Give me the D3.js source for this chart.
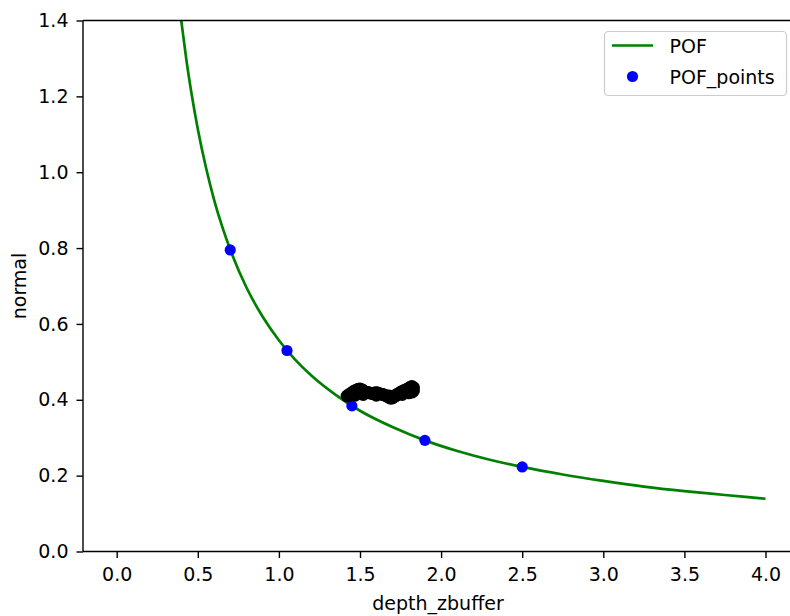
<!DOCTYPE html>
<html><head><meta charset="utf-8">
<script src="https://cdn.jsdelivr.net/npm/d3@7"></script>
<style>body{margin:0;background:#fff;} svg{display:block;font-family:"DejaVu Sans",sans-serif;}</style>
</head><body>
<svg id="chart" width="790" height="616"></svg>
<script>
// Data
const curveX = [0.35,0.38,0.40,0.43,0.46,0.50,0.55,0.60,0.65,0.70,0.80,0.90,1.00,1.10,1.20,1.35,1.50,1.70,1.90,2.10,2.30,2.50,2.75,3.00,3.25,3.50,3.75,4.00];
const curveY = [1.591,1.466,1.393,1.295,1.211,1.114,1.013,0.928,0.857,0.796,0.696,0.619,0.557,0.506,0.464,0.413,0.371,0.328,0.293,0.265,0.242,0.223,0.203,0.186,0.171,0.159,0.149,0.139];
const pointsX = [0.70,1.05,1.45,1.90,2.50];
const pointsY = [0.795,0.530,0.384,0.293,0.223];
const blackX = [1.42,1.43,1.44,1.45,1.46,1.47,1.48,1.49,1.50,1.51,1.52,1.53,1.54,1.55,1.56,1.57,1.58,1.59,1.60,1.61,1.62,1.63,1.64,1.65,1.66,1.67,1.68,1.69,1.70,1.71,1.72,1.73,1.74,1.75,1.76,1.77,1.78,1.79,1.80,1.81,1.82,1.83,1.83,1.82,1.80,1.76,1.72,1.68,1.60,1.52,1.47];
const blackY = [0.410,0.412,0.416,0.418,0.422,0.424,0.426,0.428,0.429,0.427,0.424,0.421,0.420,0.419,0.418,0.417,0.416,0.418,0.419,0.418,0.416,0.415,0.414,0.413,0.411,0.409,0.406,0.404,0.405,0.408,0.411,0.414,0.417,0.420,0.422,0.424,0.426,0.428,0.430,0.433,0.435,0.432,0.424,0.420,0.418,0.414,0.412,0.410,0.412,0.414,0.412];
const xTicks = [0.0,0.5,1.0,1.5,2.0,2.5,3.0,3.5,4.0];
const yTicks = [0.0,0.2,0.4,0.6,0.8,1.0,1.2,1.4];
const legendLabels = ["POF","POF_points"];

const FS = "19px";
const svg = d3.select("#chart");
const pL = 83, pR = 800, pT = 20.5, pB = 551.5;
const x = d3.scaleLinear().domain([0,4]).range([116.7,765.5]);
const y = d3.scaleLinear().domain([0,1.4]).range([pB,pT]);

svg.append("defs").append("clipPath").attr("id","clip")
  .append("rect").attr("x",pL).attr("y",pT).attr("width",pR-pL).attr("height",pB-pT);

const plot = svg.append("g").attr("clip-path","url(#clip)");
const curveData = curveX.map((d,i)=>[d,curveY[i]]);
plot.append("path").datum(curveData)
  .attr("fill","none").attr("stroke","#008000").attr("stroke-width",2.7)
  .attr("d", d3.line().x(d=>x(d[0])).y(d=>y(d[1])).curve(d3.curveMonotoneX));

plot.selectAll("circle.pof").data(pointsX.map((d,i)=>[d,pointsY[i]])).join("circle")
  .attr("class","pof").attr("cx",d=>x(d[0])).attr("cy",d=>y(d[1])).attr("r",5.6).attr("fill","#0000ff");

plot.selectAll("circle.blk").data(blackX.map((d,i)=>[d,blackY[i]])).join("circle")
  .attr("class","blk").attr("cx",d=>x(d[0])).attr("cy",d=>y(d[1])).attr("r",6.4).attr("fill","#000");

// Axes
const xa = svg.append("g").attr("transform",`translate(0,${pB})`)
  .call(d3.axisBottom(x).tickValues(xTicks).tickFormat(d3.format(".1f")).tickSize(6.5).tickPadding(10));
const ya = svg.append("g").attr("transform",`translate(${pL},0)`)
  .call(d3.axisLeft(y).tickValues(yTicks).tickFormat(d3.format(".1f")).tickSize(6.5).tickPadding(8));
[xa,ya].forEach(a=>{
  a.select(".domain").remove();
  a.selectAll(".tick line").attr("stroke","#000").attr("stroke-width",1.4);
  a.selectAll(".tick text").attr("fill","#000").style("font-size",FS).style("font-family","DejaVu Sans");
});
// spines
svg.append("line").attr("x1",pL).attr("x2",pR).attr("y1",pB).attr("y2",pB).attr("stroke","#000").attr("stroke-width",1.4);
svg.append("line").attr("x1",pL).attr("x2",pR).attr("y1",pT).attr("y2",pT).attr("stroke","#000").attr("stroke-width",1.4);
svg.append("line").attr("x1",pL).attr("x2",pL).attr("y1",pT).attr("y2",pB).attr("stroke","#000").attr("stroke-width",1.4);

svg.append("text").attr("x",438).attr("y",610).attr("text-anchor","middle")
  .style("font-size",FS).text("depth_zbuffer");
svg.append("text").attr("transform","translate(26,286) rotate(-90)").attr("text-anchor","middle")
  .style("font-size",FS).text("normal");

// Legend
const lg = svg.append("g");
lg.append("rect").attr("x",604.5).attr("y",31.5).attr("width",182).attr("height",64).attr("rx",4)
  .attr("fill","#fff").attr("fill-opacity",0.8).attr("stroke","#ccc").attr("stroke-width",1.2);
lg.append("line").attr("x1",612).attr("x2",653).attr("y1",45.5).attr("y2",45.5).attr("stroke","#008000").attr("stroke-width",2.7);
lg.append("circle").attr("cx",632.5).attr("cy",76.5).attr("r",5.6).attr("fill","#0000ff");
lg.selectAll("text").data(legendLabels).join("text")
  .attr("x",669.5).attr("y",(d,i)=>52.5+i*31).style("font-size",FS).text(d=>d);
</script>
</body></html>
